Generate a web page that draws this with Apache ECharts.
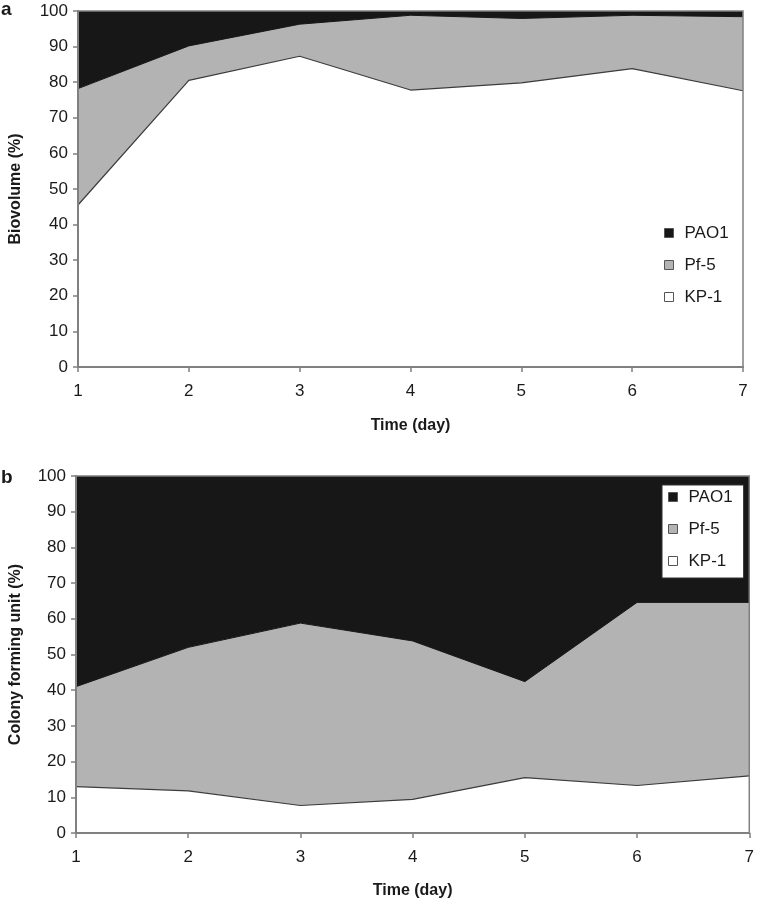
<!DOCTYPE html>
<html>
<head>
<meta charset="utf-8">
<script src="https://cdn.jsdelivr.net/npm/echarts@6/dist/echarts.min.js"></script>
<style>
html,body{margin:0;padding:0;background:#fff;}
#chart{width:757px;height:902px;}
</style>
</head>
<body>
<div id="chart"></div>
<script>
const days = ['1', '2', '3', '4', '5', '6', '7'];
const seriesNames = ['KP-1', 'Pf-5', 'PAO1'];
const legendOrder = ['PAO1', 'Pf-5', 'KP-1'];

// Panel a: Biovolume (%)
const bioKP1 = [45.5, 80.5, 87.3, 77.8, 79.8, 83.8, 77.6];
const bioPf5 = [32.7, 9.7, 9.0, 21.0, 18.1, 15.0, 20.8];
const bioPAO1 = [21.8, 9.8, 3.7, 1.2, 2.1, 1.2, 1.6];

// Panel b: Colony forming unit (%)
const cfuKP1 = [13.0, 11.8, 7.7, 9.4, 15.5, 13.3, 16.0];
const cfuPf5 = [28.0, 40.2, 51.1, 44.4, 26.9, 51.3, 48.6];
const cfuPAO1 = [59.0, 48.0, 41.2, 46.2, 57.6, 35.4, 35.4];

const FONT = '"Liberation Sans", Arial, sans-serif';
const AXIS_GRAY = '#808080';
const TEXT = '#1a1a1a';

const fills = { 'KP-1': '#ffffff', 'Pf-5': '#b3b3b3', 'PAO1': '#171717' };
const lines = {
  'KP-1': { color: '#3c3c3c', width: 1.2 },
  'Pf-5': { color: '#171717', width: 1 },
  'PAO1': { color: '#171717', width: 0 }
};

function xAxisFor(gridIndex, gap) {
  return {
    type: 'category', gridIndex: gridIndex, data: days, boundaryGap: false, z: 10,
    axisLine: { lineStyle: { color: AXIS_GRAY, width: 2 } },
    axisTick: { show: true, length: 5, lineStyle: { color: AXIS_GRAY, width: 1.5 } },
    axisLabel: { color: TEXT, fontSize: 17, fontFamily: FONT, margin: 16 },
    splitLine: { show: false },
    name: 'Time (day)', nameLocation: 'middle', nameGap: gap,
    nameTextStyle: { color: TEXT, fontSize: 16, fontWeight: 'bold', fontFamily: FONT }
  };
}
function yAxisFor(gridIndex, name, gap) {
  return {
    type: 'value', gridIndex: gridIndex, min: 0, max: 100, interval: 10, z: 10,
    axisLine: { show: true, lineStyle: { color: AXIS_GRAY, width: 2 } },
    axisTick: { show: true, length: 5, lineStyle: { color: AXIS_GRAY, width: 1.5 } },
    axisLabel: { color: TEXT, fontSize: 17, fontFamily: FONT, margin: 10 },
    splitLine: { show: false },
    name: name, nameLocation: 'middle', nameGap: gap,
    nameTextStyle: { color: TEXT, fontSize: 16, fontWeight: 'bold', fontFamily: FONT }
  };
}
function buildSeries(gridIndex, stackName, values) {
  return seriesNames.map(function (n, i) {
    return {
      name: n, type: 'line', stack: stackName,
      xAxisIndex: gridIndex, yAxisIndex: gridIndex,
      data: values[i], symbol: 'none', showSymbol: false,
      color: fills[n],
      itemStyle: { color: fills[n] },
      lineStyle: lines[n],
      areaStyle: { color: fills[n], opacity: 1 },
      emphasis: { disabled: true },
      z: 2
    };
  });
}
function legendFor(opts) {
  return Object.assign({
    orient: 'vertical', data: legendOrder, icon: 'rect',
    itemWidth: 9, itemHeight: 9, itemGap: 14,
    itemStyle: { borderColor: '#555', borderWidth: 1 },
    textStyle: { color: TEXT, fontSize: 17, fontFamily: FONT, lineHeight: 18, padding: [0, 0, 0, 6] },
    selectedMode: false
  }, opts);
}

const chart = echarts.init(document.getElementById('chart'), null, { renderer: 'canvas' });
chart.setOption({
  backgroundColor: '#ffffff',
  animation: false,
  title: [
    { text: 'a', left: 1, top: 0, padding: 0, textStyle: { fontSize: 19, fontWeight: 'bold', color: TEXT, fontFamily: FONT } },
    { text: 'b', left: 1, top: 468, padding: 0, textStyle: { fontSize: 19, fontWeight: 'bold', color: TEXT, fontFamily: FONT } }
  ],
  grid: [
    { left: 77, right: 14, top: 11, height: 356, show: true, borderColor: AXIS_GRAY, borderWidth: 1.5, backgroundColor: 'transparent', z: 10 },
    { left: 72, right: 6, top: 476, height: 357, show: true, borderColor: AXIS_GRAY, borderWidth: 1.5, backgroundColor: 'transparent', z: 10 }
  ],
  xAxis: [xAxisFor(0, 51), xAxisFor(1, 50)],
  yAxis: [yAxisFor(0, 'Biovolume (%)', 54), yAxisFor(1, 'Colony forming unit (%)', 52)],
  legend: [
    legendFor({ left: 664, top: 224, padding: 0 }),
    legendFor({ left: 662, top: 485, padding: [3, 11, 8, 6], backgroundColor: '#ffffff', borderColor: '#333333', borderWidth: 1 })
  ],
  series: [].concat(
    buildSeries(0, 'bio', [bioKP1, bioPf5, bioPAO1]),
    buildSeries(1, 'cfu', [cfuKP1, cfuPf5, cfuPAO1])
  )
});
</script>
</body>
</html>
